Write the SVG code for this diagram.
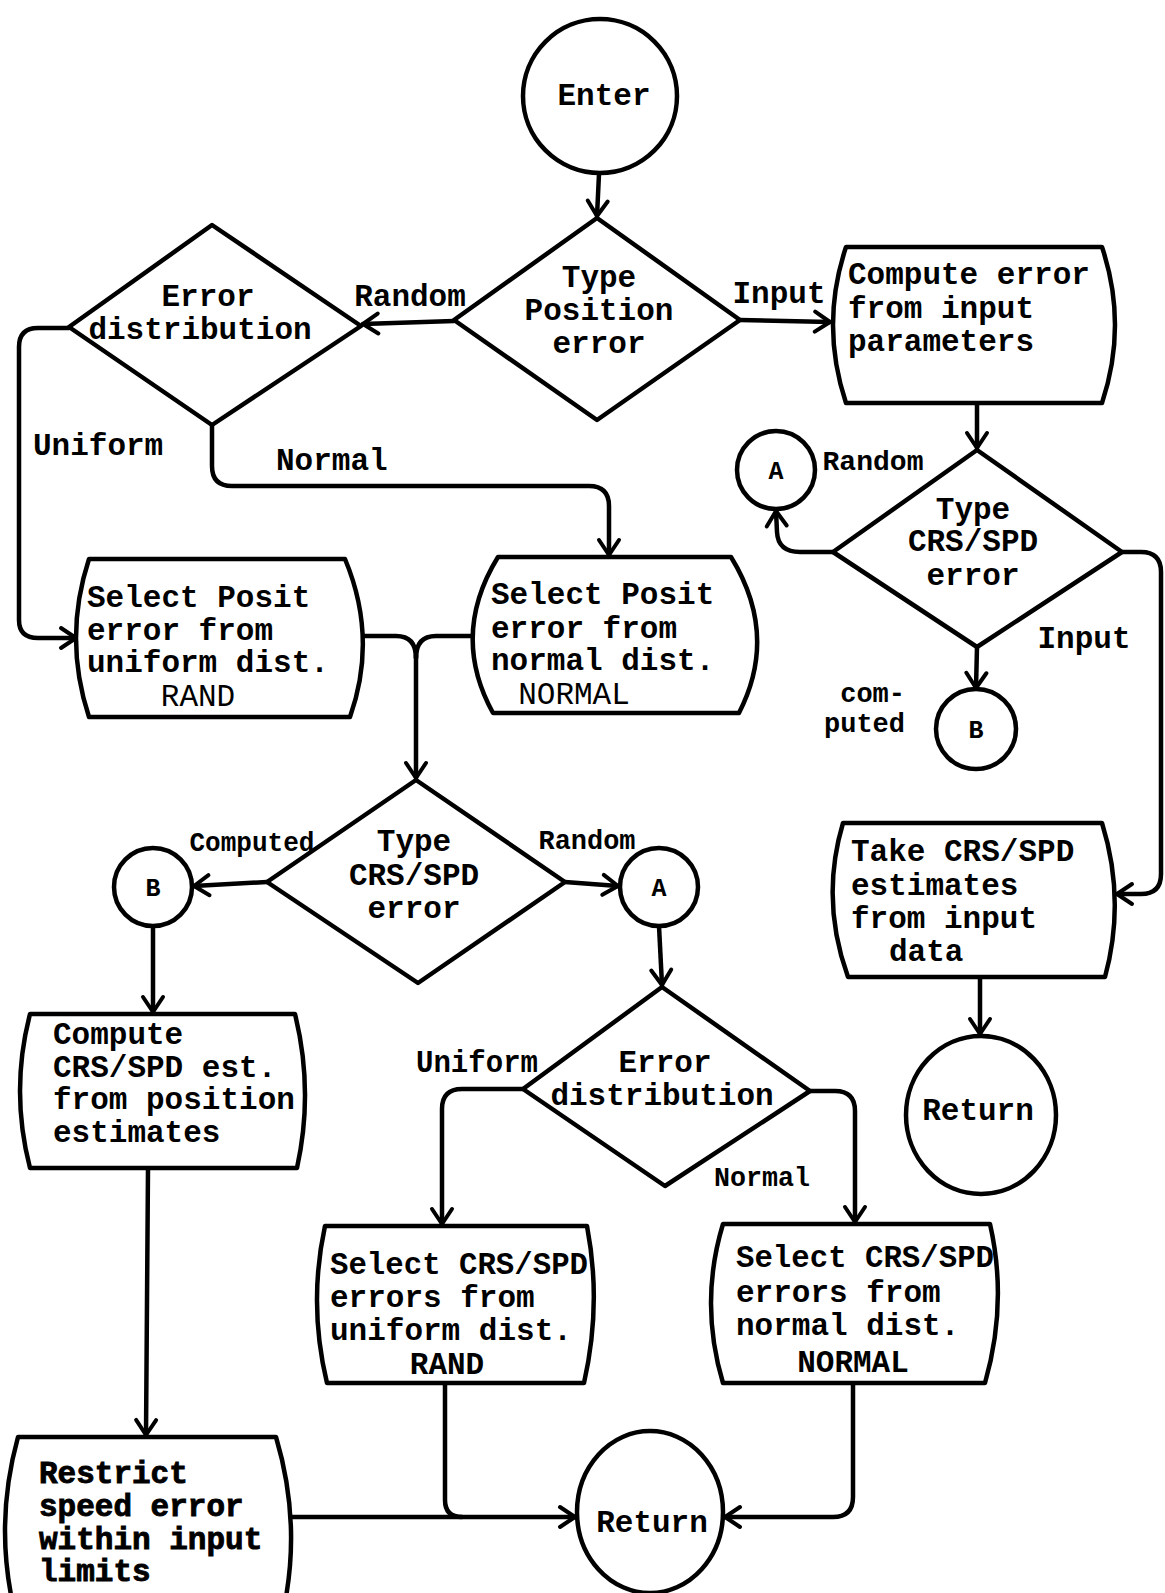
<svg xmlns="http://www.w3.org/2000/svg" width="1165" height="1593" viewBox="0 0 1165 1593">
  <defs>
    <marker id="arr" viewBox="-18 -13 22 26" refX="0" refY="0" markerWidth="22" markerHeight="26" orient="auto" markerUnits="userSpaceOnUse">
      <path d="M-15,-10 L0,0 L-15,10" fill="none" stroke="#000" stroke-width="4" stroke-linecap="round" stroke-linejoin="round"/>
    </marker>
    <style>
      .shape { fill: #fff; stroke: #000; stroke-width: 4.5; stroke-linejoin: round; }
      .edge { fill: none; stroke: #000; stroke-width: 4.5; stroke-linecap: round; stroke-linejoin: round; }
      .ar { marker-end: url(#arr); }
      text { font-family: "Liberation Mono", "DejaVu Sans Mono", monospace; font-weight: bold; font-size: 31px; fill: #000; }
      .c { text-anchor: middle; }
      .lbl { font-size: 27px; }
      .thin { font-weight: normal; }
      .ltr { font-size: 25px; }
      .heavy { stroke: #000; stroke-width: 0.9px; }
    </style>
  </defs>
  <rect width="1165" height="1593" fill="#fff"/>

  <!-- connectors -->
  <g id="connectors">
    <path class="edge ar" d="M599,174 L597,216"/>
    <path class="edge ar" d="M454,321 L363,324"/>
    <path class="edge ar" d="M740,320 L830,322"/>
    <path class="edge ar" d="M69,328 L38,328 Q19,328 19,347 L19,620 Q19,638 38,638 L76,638"/>
    <path class="edge ar" d="M212,425 L212,466 Q212,486 232,486 L589,486 Q609,486 609,506 L609,555"/>
    <path class="edge" d="M363,636 L396,636 Q416,636 416,658"/>
    <path class="edge" d="M473,636 L436,636 Q416,636 416,658"/>
    <path class="edge ar" d="M416,650 L416,778"/>
    <path class="edge ar" d="M267,882 L194,886"/>
    <path class="edge ar" d="M565,882 L618,886"/>
    <path class="edge ar" d="M153,926 L153,1012"/>
    <path class="edge ar" d="M148,1168 L146,1435"/>
    <path class="edge ar" d="M659,926 L662,985"/>
    <path class="edge ar" d="M523,1089 L462,1089 Q442,1089 442,1109 L442,1224"/>
    <path class="edge ar" d="M810,1091 L835,1091 Q855,1091 855,1111 L855,1222"/>
    <path class="edge" d="M445,1383 L445,1500 Q445,1517 462,1517"/>
    <path class="edge ar" d="M290,1517 L575,1517"/>
    <path class="edge ar" d="M853,1383 L853,1497 Q853,1517 833,1517 L725,1517"/>
    <path class="edge ar" d="M977,403 L977,448"/>
    <path class="edge ar" d="M833,552 L800,552 Q778,552 777,532 L776,511"/>
    <path class="edge ar" d="M977,647 L976,688"/>
    <path class="edge ar" d="M1122,552 L1141,552 Q1161,552 1161,572 L1161,874 Q1161,894 1141,894 L1117,894"/>
    <path class="edge ar" d="M980,977 L980,1034"/>
  </g>

  <!-- start -->
  <g id="enter">
    <circle class="shape" cx="600" cy="96" r="77"/>
    <text class="c" x="604" y="105">Enter</text>
  </g>

  <g id="type-position-error">
    <polygon class="shape" points="597,218 740,320 597,420 454,320"/>
    <text class="c" x="599" y="287">Type</text>
    <text class="c" x="599" y="320">Position</text>
    <text class="c" x="599" y="353">error</text>
  </g>

  <g id="error-distribution-1">
    <polygon class="shape" points="212,225 361,326 212,425 69,327"/>
    <text class="c" x="208" y="306">Error</text>
    <text class="c" x="200" y="339">distribution</text>
  </g>

  <g id="compute-error">
    <path class="shape" d="M846,247 L1102,247 Q1128,325 1102,403 L846,403 Q820,325 846,247 Z"/>
    <text x="848" y="284">Compute error</text>
    <text x="848" y="318">from input</text>
    <text x="848" y="351">parameters</text>
  </g>

  <g id="select-posit-uniform">
    <path class="shape" d="M89,559 L345,559 Q378,638 350,717 L89,717 Q63,638 89,559 Z"/>
    <text x="87" y="607">Select Posit</text>
    <text x="87" y="640">error from</text>
    <text x="87" y="672">uniform dist.</text>
    <text class="c thin" x="198" y="706">RAND</text>
  </g>

  <g id="select-posit-normal">
    <path class="shape" d="M498,557 L731,557 Q779,635 739,713 L493,713 Q450,635 498,557 Z"/>
    <text x="491" y="604">Select Posit</text>
    <text x="491" y="638">error from</text>
    <text x="491" y="670">normal dist.</text>
    <text class="c thin" x="574" y="704">NORMAL</text>
  </g>

  <g id="type-crs-spd-1">
    <polygon class="shape" points="977,450 1122,552 977,647 833,552"/>
    <text class="c" x="973" y="519">Type</text>
    <text class="c" x="973" y="551">CRS/SPD</text>
    <text class="c" x="973" y="585">error</text>
  </g>

  <g id="connector-a-1">
    <circle class="shape" cx="776" cy="470" r="39"/>
    <text class="c ltr" x="776" y="479">A</text>
  </g>

  <g id="connector-b-1">
    <circle class="shape" cx="976" cy="729" r="40"/>
    <text class="c ltr" x="976" y="738">B</text>
  </g>

  <g id="take-crs-spd">
    <path class="shape" d="M843,823 L1102,823 Q1126,900 1105,977 L848,977 Q820,900 843,823 Z"/>
    <text x="851" y="861">Take CRS/SPD</text>
    <text x="851" y="895">estimates</text>
    <text x="851" y="928">from input</text>
    <text x="889" y="961">data</text>
  </g>

  <g id="return-1">
    <ellipse class="shape" cx="981" cy="1115" rx="75" ry="79"/>
    <text class="c" x="978" y="1120">Return</text>
  </g>

  <g id="type-crs-spd-2">
    <polygon class="shape" points="416,780 565,882 418,983 267,882"/>
    <text class="c" x="414" y="851">Type</text>
    <text class="c" x="414" y="885">CRS/SPD</text>
    <text class="c" x="414" y="918">error</text>
  </g>

  <g id="connector-b-2">
    <circle class="shape" cx="153" cy="887" r="39"/>
    <text class="c ltr" x="153" y="896">B</text>
  </g>

  <g id="connector-a-2">
    <circle class="shape" cx="659" cy="887" r="39"/>
    <text class="c ltr" x="659" y="896">A</text>
  </g>

  <g id="compute-crs-spd">
    <path class="shape" d="M30,1014 L295,1014 Q314,1091 297,1168 L30,1168 Q10,1091 30,1014 Z"/>
    <text x="53" y="1044">Compute</text>
    <text x="53" y="1077">CRS/SPD est.</text>
    <text x="53" y="1109">from position</text>
    <text x="53" y="1142">estimates</text>
  </g>

  <g id="error-distribution-2">
    <polygon class="shape" points="662,987 810,1091 665,1186 523,1089"/>
    <text class="c" x="665" y="1072">Error</text>
    <text class="c" x="662" y="1105">distribution</text>
  </g>

  <g id="select-crs-spd-uniform">
    <path class="shape" d="M325,1226 L587,1226 Q602,1304 584,1383 L327,1383 Q308,1304 325,1226 Z"/>
    <text x="330" y="1274" textLength="258" lengthAdjust="spacingAndGlyphs">Select CRS/SPD</text>
    <text x="330" y="1307">errors from</text>
    <text x="330" y="1340">uniform dist.</text>
    <text class="c" x="447" y="1374">RAND</text>
  </g>

  <g id="select-crs-spd-normal">
    <path class="shape" d="M723,1224 L990,1224 Q1008,1303 985,1383 L723,1383 Q699,1303 723,1224 Z"/>
    <text x="736" y="1267" textLength="258" lengthAdjust="spacingAndGlyphs">Select CRS/SPD</text>
    <text x="736" y="1302">errors from</text>
    <text x="736" y="1335">normal dist.</text>
    <text class="c" x="853" y="1372">NORMAL</text>
  </g>

  <g id="restrict-speed-error">
    <path class="shape" d="M18,1437 L276,1437 Q304,1531 280,1625 L18,1625 Q-8,1531 18,1437 Z"/>
    <text class="heavy" x="39" y="1483">Restrict</text>
    <text class="heavy" x="39" y="1516">speed error</text>
    <text class="heavy" x="39" y="1549">within input</text>
    <text class="heavy" x="39" y="1581">limits</text>
  </g>

  <g id="return-2">
    <ellipse class="shape" cx="650" cy="1512" rx="73" ry="81"/>
    <text class="c" x="652" y="1532">Return</text>
  </g>

  <!-- branch labels -->
  <g id="labels">
    <text class="c" x="410" y="306">Random</text>
    <text class="c" x="779" y="303">Input</text>
    <text x="33" y="455">Uniform</text>
    <text x="276" y="470">Normal</text>
    <text class="c lbl" x="873" y="470" textLength="101" lengthAdjust="spacingAndGlyphs">Random</text>
    <text class="lbl" x="905" y="702" text-anchor="end">com-</text>
    <text class="lbl" x="905" y="732" text-anchor="end">puted</text>
    <text class="c" x="1084" y="648">Input</text>
    <text class="c lbl" x="252" y="851" textLength="125" lengthAdjust="spacingAndGlyphs">Computed</text>
    <text class="c lbl" x="587" y="849" textLength="97" lengthAdjust="spacingAndGlyphs">Random</text>
    <text x="416" y="1072" textLength="122" lengthAdjust="spacingAndGlyphs">Uniform</text>
    <text class="c lbl" x="762" y="1186" textLength="96" lengthAdjust="spacingAndGlyphs">Normal</text>
  </g>
</svg>
